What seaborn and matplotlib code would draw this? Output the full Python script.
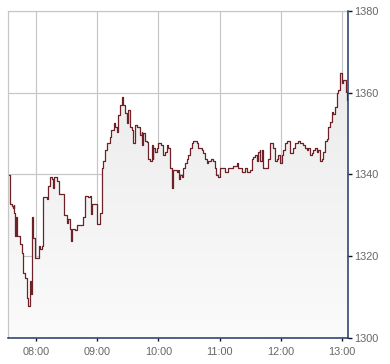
import numpy as np
import pandas as pd
import matplotlib
matplotlib.use("Agg")
import matplotlib.pyplot as plt
import matplotlib.dates as mdates
from matplotlib.colors import LinearSegmentedColormap
import seaborn as sns

times = [
    "07:33:30", "07:34:00", "07:36:00", "07:37:00", "07:38:00", "07:38:30", "07:39:00", "07:40:00",
    "07:40:30", "07:41:00", "07:44:00", "07:44:30", "07:46:00", "07:46:30", "07:47:30", "07:49:00",
    "07:51:00", "07:52:00", "07:54:00", "07:54:30", "07:55:00", "07:56:00", "07:56:30", "07:57:30",
    "07:58:30", "08:02:00", "08:02:30", "08:04:00", "08:05:30", "08:07:00", "08:10:30", "08:12:00",
    "08:13:30", "08:15:30", "08:17:00", "08:17:30", "08:20:30", "08:22:00", "08:22:30", "08:25:00",
    "08:27:00", "08:30:00", "08:31:30", "08:33:30", "08:34:00", "08:35:00", "08:38:00", "08:40:00",
    "08:45:00", "08:46:00", "08:48:00", "08:51:00", "08:53:00", "08:53:30", "08:54:30", "08:59:30",
    "09:00:00", "09:03:00", "09:04:30", "09:06:00", "09:07:30", "09:09:30", "09:12:30", "09:14:00",
    "09:16:00", "09:16:30", "09:17:30", "09:19:00", "09:20:30", "09:22:30", "09:24:00", "09:25:30",
    "09:27:00", "09:29:00", "09:30:30", "09:32:00", "09:34:00", "09:35:30", "09:37:00", "09:39:00",
    "09:42:00", "09:43:30", "09:44:00", "09:45:00", "09:47:00", "09:48:30", "09:50:00", "09:52:00",
    "09:53:30", "09:54:00", "09:54:30", "09:55:00", "09:56:30", "09:58:30", "10:00:00", "10:01:30",
    "10:03:00", "10:05:00", "10:06:30", "10:08:00", "10:09:30", "10:11:30", "10:13:00", "10:13:30",
    "10:14:30", "10:18:00", "10:19:30", "10:20:00", "10:21:00", "10:23:00", "10:24:30", "10:26:00",
    "10:28:00", "10:29:30", "10:31:00", "10:32:30", "10:34:00", "10:37:30", "10:39:00", "10:40:30",
    "10:42:30", "10:44:00", "10:45:30", "10:47:30", "10:49:00", "10:52:00", "10:54:00", "10:55:30",
    "10:57:00", "10:58:30", "11:00:30", "11:03:30", "11:05:00", "11:08:00", "11:10:00", "11:13:00",
    "11:17:00", "11:18:00", "11:20:00", "11:22:00", "11:25:00", "11:27:00", "11:30:00", "11:32:00",
    "11:33:00", "11:34:30", "11:36:30", "11:37:30", "11:39:30", "11:40:00", "11:41:30", "11:42:30",
    "11:46:30", "11:47:30", "11:49:30", "11:51:30", "11:52:30", "11:54:00", "11:56:00", "11:57:00",
    "11:59:00", "11:59:30", "12:01:00", "12:02:00", "12:04:00", "12:06:00", "12:07:00", "12:09:00",
    "12:09:30", "12:11:00", "12:12:00", "12:14:00", "12:16:00", "12:17:00", "12:19:00", "12:21:00",
    "12:22:00", "12:24:00", "12:26:00", "12:27:00", "12:28:30", "12:30:30", "12:31:30", "12:33:30",
    "12:35:30", "12:36:30", "12:38:30", "12:40:30", "12:41:30", "12:43:00", "12:45:00", "12:46:00",
    "12:48:00", "12:50:00", "12:51:00", "12:53:00", "12:55:00", "12:56:00", "12:58:00", "12:59:30",
    "13:00:00", "13:01:00", "13:03:00", "13:04:00", "13:05:00",
]
prices = [
    1339.8, 1332.9, 1332.4, 1331.7, 1332.6, 1330.7, 1325.0, 1325.0,
    1329.5, 1325.0, 1325.0, 1323.1, 1323.1, 1320.9, 1316.0, 1314.7,
    1309.8, 1307.9, 1307.9, 1314.0, 1310.8, 1314.0, 1329.5, 1324.5,
    1319.6, 1319.6, 1322.6, 1321.8, 1322.6, 1334.4, 1334.1, 1337.3,
    1339.5, 1339.0, 1336.8, 1339.3, 1338.5, 1338.5, 1335.3, 1335.3,
    1330.0, 1328.2, 1329.2, 1326.7, 1323.8, 1326.7, 1326.3, 1327.7,
    1327.7, 1329.5, 1334.8, 1334.4, 1334.8, 1330.4, 1332.9, 1332.4,
    1328.0, 1330.7, 1341.7, 1343.4, 1345.9, 1347.6, 1349.1, 1350.8,
    1352.0, 1352.5, 1351.5, 1350.3, 1354.5, 1356.9, 1358.9, 1356.9,
    1355.0, 1352.5, 1355.7, 1351.5, 1350.8, 1347.6, 1352.0, 1351.5,
    1349.6, 1350.3, 1347.1, 1350.1, 1348.3, 1347.9, 1343.9, 1343.4,
    1343.9, 1347.1, 1343.9, 1346.4, 1345.4, 1346.4, 1347.6, 1347.6,
    1347.1, 1344.7, 1345.4, 1347.1, 1346.6, 1341.5, 1339.0, 1336.6,
    1341.0, 1340.5, 1341.0, 1339.0, 1339.8, 1339.3, 1341.7, 1342.7,
    1343.9, 1344.7, 1346.4, 1347.6, 1348.3, 1347.6, 1346.6, 1346.6,
    1345.9, 1345.2, 1343.9, 1342.7, 1343.4, 1343.9, 1343.4, 1341.5,
    1339.8, 1339.3, 1341.5, 1341.5, 1340.5, 1341.7, 1341.7, 1342.2,
    1342.7, 1341.7, 1341.5, 1340.7, 1341.5, 1340.5, 1341.0, 1343.9,
    1344.2, 1344.7, 1343.4, 1345.4, 1345.9, 1343.4, 1346.1, 1341.7,
    1341.7, 1343.9, 1347.6, 1347.6, 1346.4, 1343.4, 1343.9, 1344.7,
    1344.2, 1342.7, 1344.7, 1345.9, 1347.6, 1348.1, 1348.3, 1347.8,
    1345.2, 1345.2, 1346.6, 1347.6, 1347.8, 1348.3, 1347.6, 1347.6,
    1347.1, 1346.6, 1345.9, 1346.4, 1344.7, 1345.2, 1345.9, 1346.4,
    1345.4, 1345.9, 1343.4, 1343.9, 1345.4, 1348.3, 1348.6, 1351.5,
    1352.8, 1355.2, 1354.9, 1356.4, 1359.9, 1360.6, 1364.8, 1364.8,
    1362.3, 1363.1, 1363.1, 1360.1, 1358.2,
]
y_ticks = [1300, 1320, 1340, 1360, 1380]
x_ticks = ["08:00", "09:00", "10:00", "11:00", "12:00", "13:00"]
x_range = ["07:32:30", "13:06:00"]

day = "2020-01-01 "
df = pd.DataFrame({"time": pd.to_datetime([day + t for t in times]), "price": prices})

sns.set_style("white")
plt.rcParams["font.family"] = ["Liberation Sans", "DejaVu Sans"]

fig = plt.figure(figsize=(3.9, 3.64), dpi=100)
ax = fig.add_axes([8 / 390, 1 - 338 / 364, 340 / 390, 327 / 364])

xn = mdates.date2num(df["time"])
xlim = mdates.date2num(pd.to_datetime([day + t for t in x_range]))
ylim = (y_ticks[0], y_ticks[-1])

# gradient fill under line
poly = ax.fill_between(xn, df["price"], ylim[0], step="post", facecolor="none", edgecolor="none")
cmap = LinearSegmentedColormap.from_list("g", ["#fbfbfb", "#ebebeb"])
grad = np.linspace(0, 1, 256).reshape(-1, 1)
im = ax.imshow(grad, extent=[xlim[0], xlim[1], 1300, 1366], origin="lower", aspect="auto",
               cmap=cmap, zorder=1, interpolation="bilinear")
im.set_clip_path(poly.get_paths()[0], ax.transData)

sns.lineplot(data=df, x="time", y="price", ax=ax, color="#6e2126", linewidth=0.9,
             drawstyle="steps-post", zorder=3)

ax.set_xlim(xlim)
ax.set_ylim(ylim)
ax.set_xlabel("")
ax.set_ylabel("")

ax.set_xticks(mdates.date2num(pd.to_datetime([day + t for t in x_ticks])))
ax.set_xticklabels(x_ticks)
ax.set_yticks(y_ticks)
ax.yaxis.tick_right()

grid_c = "#c6c6c6"
ax.grid(True, color=grid_c, linewidth=0.85, zorder=0)
ax.set_axisbelow(True)

for s in ["left", "top"]:
    ax.spines[s].set_color(grid_c)
    ax.spines[s].set_linewidth(0.85)
for s in ["right", "bottom"]:
    ax.spines[s].set_color("#1c3864")
    ax.spines[s].set_linewidth(1.1)
    ax.spines[s].set_zorder(5)

ax.tick_params(axis="y", which="major", direction="out", length=3.2, width=1.0, color="#111111",
               labelsize=7.8, labelcolor="#666666", pad=1, right=True, left=False)
ax.tick_params(axis="x", which="major", direction="out", length=2.5, width=1.0, color="#111111",
               labelsize=7.8, labelcolor="#666666", pad=4, bottom=True)

fig.savefig("out.png", dpi=100)
